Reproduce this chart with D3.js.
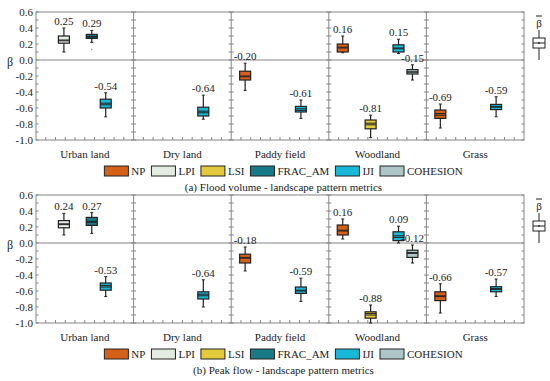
<!DOCTYPE html>
<html>
<head>
<meta charset="utf-8">
<script src="https://cdn.jsdelivr.net/npm/d3@7"></script>
<style>
body { margin: 0; background: #fff; }
text { font-family: "Liberation Serif", "Times New Roman", serif; font-size: 11px; fill: #222; }
</style>
</head>
<body>
<div class="canvas"></div>
<script>
const categories = ['Urban land', 'Dry land', 'Paddy field', 'Woodland', 'Grass'];
const metrics = ['NP', 'LPI', 'LSI', 'FRAC_AM', 'IJI', 'COHESION'];
const metricColors = ['#d5601a', '#e2ece0', '#e3c93c', '#187987', '#18b9d8', '#afc6c9'];
const yTicks = [0.6, 0.4, 0.2, 0.0, -0.2, -0.4, -0.6, -0.8, -1.0];

// [category, metric, low, q1, median, q3, high, mean]
const floodBoxes = [
    ['Urban land', 'LPI', 0.10, 0.21, 0.24, 0.30, 0.40, 0.25],
    ['Urban land', 'FRAC_AM', 0.22, 0.27, 0.29, 0.32, 0.37, 0.29],
    ['Urban land', 'IJI', -0.71, -0.60, -0.56, -0.49, -0.41, -0.54],
    ['Dry land', 'IJI', -0.74, -0.70, -0.66, -0.59, -0.44, -0.64],
    ['Paddy field', 'NP', -0.38, -0.25, -0.21, -0.14, -0.04, -0.20],
    ['Paddy field', 'IJI', -0.73, -0.65, -0.63, -0.58, -0.50, -0.61],
    ['Woodland', 'NP', 0.09, 0.10, 0.15, 0.20, 0.30, 0.16],
    ['Woodland', 'LSI', -0.97, -0.86, -0.79, -0.75, -0.69, -0.81],
    ['Woodland', 'IJI', 0.08, 0.10, 0.14, 0.19, 0.26, 0.15],
    ['Woodland', 'COHESION', -0.25, -0.175, -0.15, -0.12, -0.06, -0.15],
    ['Grass', 'NP', -0.85, -0.73, -0.67, -0.625, -0.55, -0.69],
    ['Grass', 'IJI', -0.71, -0.62, -0.58, -0.555, -0.46, -0.59]
];
const floodOutliers = [['Urban land', 'FRAC_AM', 0.13]];

const peakBoxes = [
    ['Urban land', 'LPI', 0.10, 0.19, 0.23, 0.28, 0.37, 0.24],
    ['Urban land', 'FRAC_AM', 0.12, 0.22, 0.26, 0.32, 0.38, 0.27],
    ['Urban land', 'IJI', -0.67, -0.59, -0.55, -0.50, -0.42, -0.53],
    ['Dry land', 'IJI', -0.80, -0.70, -0.66, -0.61, -0.46, -0.64],
    ['Paddy field', 'NP', -0.35, -0.25, -0.19, -0.14, -0.05, -0.18],
    ['Paddy field', 'IJI', -0.73, -0.63, -0.60, -0.55, -0.44, -0.59],
    ['Woodland', 'NP', 0.05, 0.10, 0.15, 0.225, 0.30, 0.16],
    ['Woodland', 'LSI', -1.0, -0.94, -0.90, -0.86, -0.775, -0.88],
    ['Woodland', 'IJI', 0.0, 0.03, 0.07, 0.14, 0.21, 0.09],
    ['Woodland', 'COHESION', -0.25, -0.18, -0.13, -0.09, -0.025, -0.12],
    ['Grass', 'NP', -0.875, -0.72, -0.67, -0.61, -0.51, -0.66],
    ['Grass', 'IJI', -0.67, -0.61, -0.58, -0.546, -0.45, -0.57]
];
const peakOutliers = [];

const width = 550;
const height = 381;
const left = 36;
const right = 524;
const panelH = 128;
const gray = '#858585';
const boxW = 11;

const svg = d3.select('.canvas')
    .append('svg')
    .attr('width', width)
    .attr('height', height);

const x = d3.scaleBand()
    .domain(categories)
    .range([left, right]);

const xm = d3.scalePoint()
    .domain(metrics)
    .range([0, x.bandwidth()])
    .padding(1);

const color = d3.scaleOrdinal().domain(metrics).range(metricColors);

function drawPanel(boxes, outliers, top, subtitle) {
    const bottom = top + panelH;
    const y = d3.scaleLinear().domain([-1.0, 0.6]).range([bottom, top]);
    const g = svg.append('g');

    // frame
    g.append('rect')
        .attr('x', left).attr('y', top)
        .attr('width', right - left).attr('height', panelH)
        .attr('fill', 'none').attr('stroke', gray);

    // zero line
    g.append('line')
        .attr('x1', left).attr('x2', right)
        .attr('y1', y(0)).attr('y2', y(0))
        .attr('stroke', gray);

    // dividers
    const bounds = categories.map(c => x(c)).concat([right]);
    const minorY = d3.range(-10, 7).map(d => d / 10);
    bounds.forEach((bx, i) => {
        if (i > 0 && i < bounds.length - 1) {
            g.append('line')
                .attr('x1', bx).attr('x2', bx)
                .attr('y1', top).attr('y2', bottom)
                .attr('stroke', gray);
        }
        const l = i === 0 ? 0 : 2.5;
        const r = i === bounds.length - 1 ? 0 : 2.5;
        g.selectAll(null)
            .data(minorY)
            .enter().append('line')
            .attr('x1', bx - l).attr('x2', bx + r)
            .attr('y1', d => y(d)).attr('y2', d => y(d))
            .attr('stroke', gray);
    });

    // bottom minor ticks
    categories.forEach(c => {
        g.selectAll(null)
            .data(d3.range(1, 10))
            .enter().append('line')
            .attr('x1', d => x(c) + d * x.bandwidth() / 10)
            .attr('x2', d => x(c) + d * x.bandwidth() / 10)
            .attr('y1', bottom).attr('y2', bottom - 3)
            .attr('stroke', gray);
    });

    // y axis
    const yAxis = d3.axisLeft(y)
        .tickValues(yTicks)
        .tickSize(0)
        .tickPadding(3)
        .tickFormat(d3.format('.1f'));
    const ga = g.append('g')
        .attr('transform', `translate(${left},0)`)
        .call(yAxis);
    ga.select('.domain').remove();
    ga.selectAll('text')
        .style('font-family', '"Liberation Serif", serif')
        .style('font-size', '11px')
        .attr('fill', '#222')
        .text(d => d3.format('.1f')(d).replace('−', '-'));

    g.append('text')
        .attr('x', 10).attr('y', y(0) + 6)
        .attr('text-anchor', 'middle')
        .style('font-size', '12px')
        .text('β');

    // category labels
    g.selectAll(null)
        .data(categories)
        .enter().append('text')
        .attr('x', d => x(d) + x.bandwidth() / 2)
        .attr('y', bottom + 17.5)
        .attr('text-anchor', 'middle')
        .text(d => d);

    // boxes
    const bx = d => x(d[0]) + xm(d[1]);
    const bg = g.selectAll('g.box')
        .data(boxes)
        .enter().append('g')
        .attr('class', 'box');

    bg.append('line')
        .attr('x1', bx).attr('x2', bx)
        .attr('y1', d => y(d[2])).attr('y2', d => y(d[6]))
        .attr('stroke', '#222').attr('stroke-width', 1.2);
    bg.append('line')
        .attr('x1', d => bx(d) - 1.5).attr('x2', d => bx(d) + 1.5)
        .attr('y1', d => y(d[2])).attr('y2', d => y(d[2]))
        .attr('stroke', '#222');
    bg.append('line')
        .attr('x1', d => bx(d) - 1.5).attr('x2', d => bx(d) + 1.5)
        .attr('y1', d => y(d[6])).attr('y2', d => y(d[6]))
        .attr('stroke', '#222');
    bg.append('rect')
        .attr('x', d => bx(d) - boxW / 2)
        .attr('y', d => y(d[5]))
        .attr('width', boxW)
        .attr('height', d => y(d[3]) - y(d[5]))
        .attr('fill', d => color(d[1]))
        .attr('stroke', '#222').attr('stroke-width', 1.2);
    bg.append('line')
        .attr('x1', d => bx(d) - boxW / 2).attr('x2', d => bx(d) + boxW / 2)
        .attr('y1', d => y(d[4])).attr('y2', d => y(d[4]))
        .attr('stroke', '#222');
    bg.append('line')
        .attr('x1', d => bx(d) - boxW / 2).attr('x2', d => bx(d) + boxW / 2)
        .attr('y1', d => y(d[7])).attr('y2', d => y(d[7]))
        .attr('stroke', '#222');
    bg.append('text')
        .attr('x', bx)
        .attr('y', d => y(d[6]) - 3)
        .attr('text-anchor', 'middle')
        .text(d => d[7].toFixed(2));

    g.selectAll(null)
        .data(outliers)
        .enter().append('circle')
        .attr('cx', d => x(d[0]) + xm(d[1]))
        .attr('cy', d => y(d[2]))
        .attr('r', 0.8)
        .attr('fill', '#999');

    // mean symbol key on the right
    const kx = 539;
    const k = g.append('g');
    k.append('line').attr('x1', kx).attr('x2', kx)
        .attr('y1', top + 18).attr('y2', top + 48)
        .attr('stroke', '#222');
    k.append('rect').attr('x', kx - 6).attr('y', top + 26)
        .attr('width', 12).attr('height', 10)
        .attr('fill', '#fff').attr('stroke', '#222');
    k.append('line').attr('x1', kx - 6).attr('x2', kx + 6)
        .attr('y1', top + 31).attr('y2', top + 31)
        .attr('stroke', '#222');
    k.append('circle').attr('cx', kx).attr('cy', top + 31).attr('r', 0.9).attr('fill', '#222');
    k.append('text').attr('x', kx).attr('y', top + 15)
        .attr('text-anchor', 'middle').text('β');
    k.append('line').attr('x1', kx - 3).attr('x2', kx + 3)
        .attr('y1', top + 4).attr('y2', top + 4)
        .attr('stroke', '#222');

    // legend
    const lg = g.append('g');
    let cx = 0;
    metrics.forEach(m => {
        lg.append('rect')
            .attr('x', cx).attr('y', bottom + 26)
            .attr('width', 24).attr('height', 10)
            .attr('fill', color(m)).attr('stroke', '#222');
        const t = lg.append('text')
            .attr('x', cx + 27).attr('y', bottom + 35)
            .text(m);
        cx += 27 + t.node().getComputedTextLength() + 6;
    });
    lg.attr('transform', `translate(${283.5 - (cx - 6) / 2},0)`);

    g.append('text')
        .attr('x', 283.5).attr('y', bottom + 50.5)
        .attr('text-anchor', 'middle')
        .text(subtitle);
}

drawPanel(floodBoxes, floodOutliers, 12, '(a) Flood volume - landscape pattern metrics');
drawPanel(peakBoxes, peakOutliers, 195, '(b) Peak flow - landscape pattern metrics');
</script>
</body>
</html>
